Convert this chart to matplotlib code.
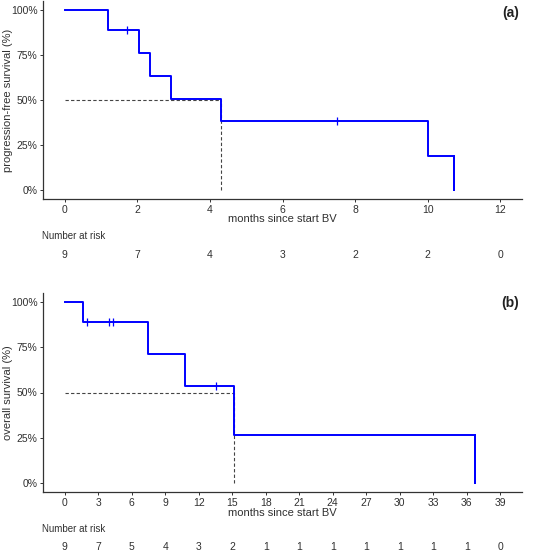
import numpy as np
import matplotlib
matplotlib.use("Agg")
import matplotlib.pyplot as plt
from matplotlib.transforms import blended_transform_factory

plt.rcParams['font.family'] = ['Liberation Sans', 'DejaVu Sans']

# ---- data (months, 1 = event, 0 = censored) ----
pfs_times = [1.18, 1.71, 2.04, 2.35, 2.93, 4.31, 7.5, 10.0, 10.73]
pfs_events = [1, 0, 1, 1, 1, 1, 0, 1, 1]
pfs_ticks = [0, 2, 4, 6, 8, 10, 12]
pfs_risk = [9, 7, 4, 3, 2, 2, 0]

os_times = [1.65, 2.02, 3.93, 4.36, 7.49, 10.8, 13.55, 15.2, 36.73]
os_events = [1, 0, 0, 0, 1, 1, 0, 1, 1]
os_ticks = [0, 3, 6, 9, 12, 15, 18, 21, 24, 27, 30, 33, 36, 39]
os_risk = [9, 7, 5, 4, 3, 2, 1, 1, 1, 1, 1, 1, 1, 0]

y_ticks = [0, 25, 50, 75, 100]
y_labels = ['0%', '25%', '50%', '75%', '100%']


def km(times, events):
    t = np.array(times, float)
    e = np.array(events, int)
    order = np.argsort(t)
    t, e = t[order], e[order]
    s = 1.0
    xs, ys = [0.0], [1.0]
    cens_x, cens_y = [], []
    at_risk = len(t)
    for ti, ei in zip(t, e):
        if ei == 1:
            s = s * (at_risk - 1) / at_risk
            xs.append(ti)
            ys.append(s)
        else:
            cens_x.append(ti)
            cens_y.append(s)
        at_risk -= 1
    return np.array(xs), np.array(ys) * 100, np.array(cens_x), np.array(cens_y) * 100


W, H = 540, 552
fig = plt.figure(figsize=(W / 100, H / 100), dpi=100)

AX_COL = '#333333'
TXT_COL = '#303030'


def panel(rect, times, events, ticks, risk, ylabel, tag, xlab_y, nar_y, risk_y, tag_y):
    l, t, r, b = rect
    ax = fig.add_axes([l / W, 1 - b / H, (r - l) / W, (b - t) / H])
    xs, ys, cx, cy = km(times, events)
    xmax = ticks[-1]
    ax.set_xlim(-0.05 * xmax, 1.05 * xmax)
    ax.set_ylim(-5, 105)
    # median lines
    idx = np.where(ys <= 50)[0][0]
    med = xs[idx]
    ax.plot([0, med], [50, 50], color='#444444', lw=0.8, ls=(0, (3, 2)), zorder=1)
    ax.plot([med, med], [0, 50], color='#444444', lw=0.8, ls=(0, (3, 2)), zorder=1)
    ax.step(xs, ys, where='post', color='#0000FF', lw=1.4, zorder=3)
    ax.plot([xs[-1], xs[-1]], [ys[-2], ys[-1]], color='#0000FF', lw=1.4, zorder=3)
    ax.plot(cx, cy, ls='none', marker='|', ms=6, mew=0.9, color='#0000FF', zorder=4)
    for s in ['top', 'right']:
        ax.spines[s].set_visible(False)
    for s in ['left', 'bottom']:
        ax.spines[s].set_color(AX_COL)
        ax.spines[s].set_linewidth(0.9)
    ax.set_xticks(ticks)
    ax.set_xticklabels([str(v) for v in ticks])
    ax.set_yticks(y_ticks)
    ax.set_yticklabels(y_labels)
    ax.tick_params(axis='both', length=2.5, width=0.7, color=AX_COL, labelsize=7.5,
                   labelcolor=TXT_COL, pad=1.5)
    fig.text(8 / W, 1 - ((t + b) / 2) / H, ylabel, rotation=90, ha='center', va='center',
             fontsize=8, color=TXT_COL)
    fig.text(282 / W, 1 - xlab_y / H, 'months since start BV', ha='center', va='center',
             fontsize=8, color=TXT_COL)
    fig.text(42 / W, 1 - nar_y / H, 'Number at risk', ha='left', va='center',
             fontsize=7, color=TXT_COL)
    tr = blended_transform_factory(ax.transData, fig.transFigure)
    for tk, n in zip(ticks, risk):
        ax.text(tk, 1 - risk_y / H, str(n), transform=tr, ha='center', va='center',
                fontsize=7.5, color=TXT_COL)
    fig.text(519 / W, 1 - tag_y / H, tag, ha='right', va='center', fontsize=10,
             fontweight='bold', color='#222222')
    return ax


panel((43, 1, 522, 199), pfs_times, pfs_events, pfs_ticks, pfs_risk,
      'progression-free survival (%)', '(a)', 219.5, 236, 255, 13)
panel((43, 293, 522, 492), os_times, os_events, os_ticks, os_risk,
      'overall survival (%)', '(b)', 513, 529, 547, 303)

fig.savefig('out.png', dpi=100)
